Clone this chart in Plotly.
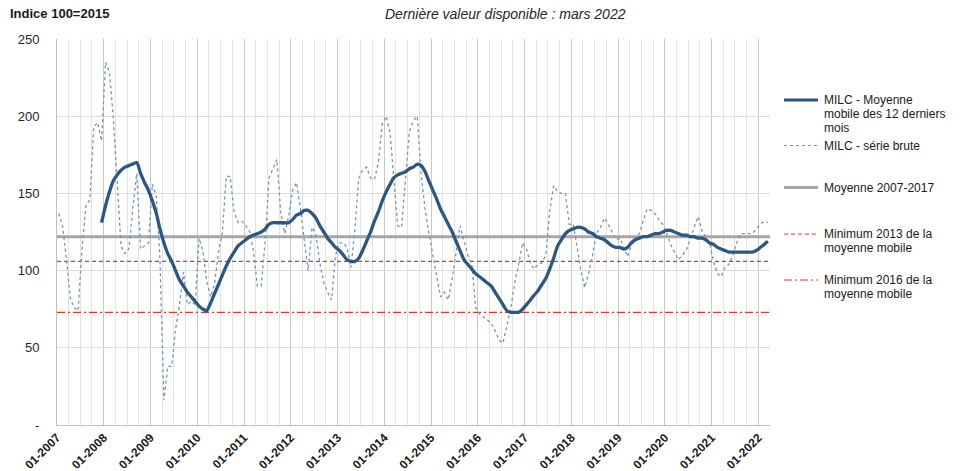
import pandas as pd
import plotly.graph_objects as go

# ---------------- data ----------------
start_month = "2007-01-01"
n_months = 183  # Jan 2007 .. Mar 2022

milc_brute = [
    137, 128, 108, 82, 76, 74, 114, 142, 146, 193, 196, 184,      # 2007
    235, 228, 200, 155, 116, 111, 114, 140, 163, 114, 116, 118,   # 2008
    156, 148, 108, 16, 38, 38, 62, 78, 99, 78, 80, 78,            # 2009
    121, 112, 93, 83, 91, 112, 124, 161, 161, 138, 131, 132,      # 2010
    129, 125, 113, 90, 90, 119, 160, 166, 172, 137, 124, 135,     # 2011
    152, 157, 141, 120, 100, 128, 124, 105, 92, 86, 81, 110,      # 2012
    118, 118, 115, 102, 126, 160, 165, 167, 160, 159, 170, 195,   # 2013
    200, 189, 160, 129, 128, 160, 190, 197, 200, 162, 140, 124,   # 2014
    110, 98, 83, 86, 81, 95, 111, 129, 119, 110, 104, 76,         # 2015
    72, 70, 68, 66, 61, 55, 53, 64, 76, 92, 104, 118,             # 2016
    114, 105, 101, 104, 105, 110, 138, 155, 151, 150, 150, 130,   # 2017
    130, 115, 100, 89, 98, 110, 124, 128, 134, 130, 125, 120,     # 2018
    121, 114, 109, 117, 119, 124, 132, 140, 139, 137, 133, 130,   # 2019
    124, 117, 112, 107, 110, 113, 120, 128, 135, 126, 122, 118,   # 2020
    106, 98, 96, 102, 104, 110, 118, 124, 124, 124, 124, 127,     # 2021
    130, 132, 131,                                                # 2022
]

milc_moy_mobile = [None] * 11 + [
    131,                                                          # 2007-12
    142, 151, 158, 162, 165, 167, 168, 169, 170, 163, 157, 152,   # 2008
    145, 137, 127, 118, 111, 106, 100, 94, 90, 86, 83, 80,        # 2009
    77, 75, 74, 79, 85, 91, 97, 103, 108, 112, 116, 118,          # 2010
    120, 122, 123, 124, 125, 127, 130, 131, 131, 131, 131, 131,   # 2011
    133, 136, 137, 139, 139, 137, 134, 129, 125, 121, 118, 115,   # 2012
    113, 110, 107, 106, 106, 108, 113, 119, 125, 132, 138, 145,   # 2013
    151, 156, 160, 162, 163, 164, 166, 167, 169, 168, 164, 158,   # 2014
    152, 146, 140, 135, 130, 125, 119, 113, 107, 104, 101, 98,    # 2015
    96, 94, 92, 90, 86, 82, 78, 74, 73, 73, 73, 75,               # 2016
    78, 81, 84, 87, 91, 95, 101, 108, 116, 120, 124, 126,         # 2017
    127, 128, 128, 127, 125, 124, 122, 121, 120, 118, 116, 115,   # 2018
    115, 114, 115, 118, 120, 121, 122, 122, 123, 124, 124, 125,   # 2019
    126, 126, 125, 124, 123, 123, 122, 122, 121, 121, 120, 118,   # 2020
    117, 115, 114, 113, 112, 112, 112, 112, 112, 112, 112, 113,   # 2021
    115, 117, 119,                                                # 2022
]

moyenne_2007_2017 = 122
minimum_2013 = 106
minimum_2016 = 73

y_tickvals = [0, 50, 100, 150, 200, 250]
y_ticktext = ["-", "50", "100", "150", "200", "250"]

legend_labels = [
    ["MILC - Moyenne", "mobile des 12 derniers", "mois"],
    ["MILC - série brute"],
    ["Moyenne 2007-2017"],
    ["Minimum 2013 de la", "moyenne mobile"],
    ["Minimum 2016 de la", "moyenne mobile"],
]

title_left = "Indice 100=2015"
title_center = "Dernière valeur disponible : mars 2022"

# ---------------- styling ----------------
FONT = "Liberation Sans, Arial, sans-serif"
C_MA = "#2b5783"
C_RAW = "#7393bb"
C_MEAN = "#a6a6a6"
C_RED = "#e2342c"

months = pd.date_range(start_month, periods=n_months, freq="MS")
x_mid = months + pd.Timedelta(days=14)   # points between tick marks
x_start = months[0]
x_end = months[-1] + pd.offsets.MonthBegin(1)

W, H = 964, 471
ML, MR, MT, MB = 57, 194, 39, 46
PW, PH = W - ML - MR, H - MT - MB


def px(xp):
    return (xp - ML) / PW


def py(yp):
    return (H - MB - yp) / PH


fig = go.Figure()

# horizontal reference lines
fig.add_trace(go.Scatter(x=[x_start, x_end], y=[moyenne_2007_2017] * 2, mode="lines",
                         line=dict(color=C_MEAN, width=3), showlegend=False, hoverinfo="skip"))
fig.add_trace(go.Scatter(x=[x_start, x_end], y=[minimum_2013] * 2, mode="lines",
                         line=dict(color=C_RED, width=1.2, dash="4px,3px"), showlegend=False))
fig.add_trace(go.Scatter(x=[x_start, x_end], y=[minimum_2016] * 2, mode="lines",
                         line=dict(color=C_RED, width=1.2, dash="8px,3px,2px,3px"), showlegend=False))

# raw series
fig.add_trace(go.Scatter(x=x_mid, y=milc_brute, mode="lines",
                         line=dict(color=C_RAW, width=1.3, dash="dot"), showlegend=False))
# moving average
fig.add_trace(go.Scatter(x=x_mid, y=milc_moy_mobile, mode="lines",
                         line=dict(color=C_MA, width=3.3, shape="spline", smoothing=0.6),
                         connectgaps=False, showlegend=False))

# ---------------- custom legend ----------------
legend_rows = [100, 145.5, 187.5, 234, 280]
legend_styles = [
    dict(color=C_MA, width=3),
    dict(color=C_RAW, width=1.2, dash="dot"),
    dict(color=C_MEAN, width=3),
    dict(color=C_RED, width=1.2, dash="4px,3px"),
    dict(color=C_RED, width=1.2, dash="8px,3px,2px,3px"),
]
shapes = []
annotations = []
for row_y, style, lines in zip(legend_rows, legend_styles, legend_labels):
    shapes.append(dict(type="line", xref="paper", yref="paper",
                       x0=px(784), x1=px(818), y0=py(row_y), y1=py(row_y), line=style))
    for i, txt in enumerate(lines):
        annotations.append(dict(text=txt, xref="paper", yref="paper",
                                x=px(822), y=py(row_y + i * 14), xanchor="left", yanchor="middle",
                                showarrow=False, font=dict(family=FONT, size=12, color="#1a1a1a")))

annotations.append(dict(text=f"<b>{title_left}</b>", xref="paper", yref="paper",
                        x=px(8), y=py(14), xanchor="left", yanchor="middle", showarrow=False,
                        font=dict(family=FONT, size=13, color="#1a1a1a")))
annotations.append(dict(text=f"<i>{title_center}</i>", xref="paper", yref="paper",
                        x=px(505), y=py(14), xanchor="center", yanchor="middle", showarrow=False,
                        font=dict(family=FONT, size=14, color="#262626")))

fig.update_layout(
    width=W, height=H,
    margin=dict(l=ML, r=MR, t=MT, b=MB, autoexpand=False),
    paper_bgcolor="white", plot_bgcolor="white",
    font=dict(family=FONT, size=12, color="#262626"),
    shapes=shapes, annotations=annotations,
    showlegend=False,
)

fig.update_xaxes(
    type="date", range=[x_start, x_end], automargin=False,
    tick0=start_month, dtick="M12", tickformat="%m-%Y",
    tickangle=-45, ticks="", tickfont=dict(family=FONT, size=12, color="#1a1a1a", weight="bold"),
    showgrid=True, gridcolor="#c9c9c9", gridwidth=1.2,
    minor=dict(dtick="M3", showgrid=True, gridcolor="#e3e3e3", gridwidth=1),
    showline=True, linecolor="#bfbfbf", linewidth=1,
    zeroline=False,
)
fig.update_yaxes(
    range=[0, 250], tickvals=y_tickvals, ticktext=y_ticktext, automargin=False,
    tickfont=dict(family=FONT, size=13, color="#262626"),
    showgrid=True, gridcolor="#dcdcdc", gridwidth=1,
    showline=True, linecolor="#bfbfbf", linewidth=1,
    zeroline=False, ticks="", ticklabelstandoff=14,
)

fig.write_html(
    "out.html",
    config={"displayModeBar": False},
    post_script="document.body.style.margin='0';document.body.style.overflow='hidden';",
)
